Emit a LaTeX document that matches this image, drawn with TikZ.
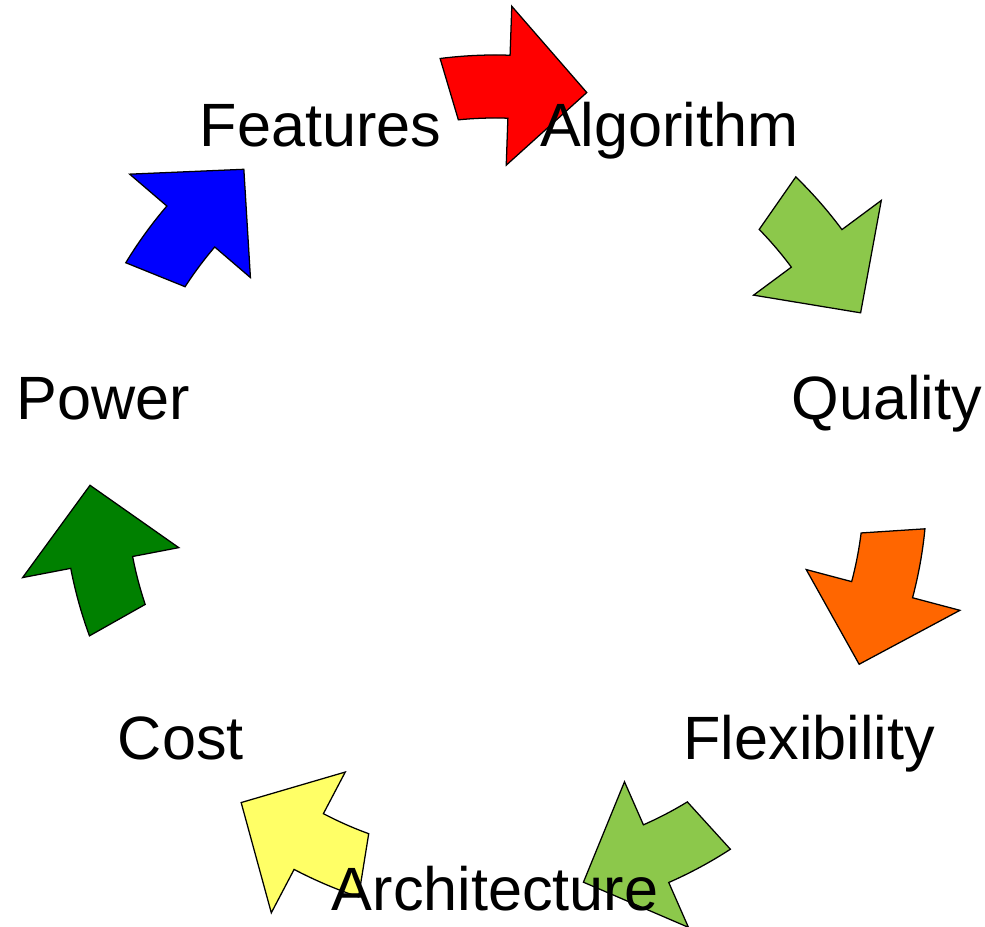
\documentclass[tikz,border=0pt]{standalone}
\usepackage{fontspec}
\setmainfont{Liberation Sans}
\usepackage{xcolor}
\usepackage{tikz}
\usetikzlibrary{
	positioning,    % per posizionare i nodi
	calc            % per calcolare le coordinate
}
\definecolor{rosso}{HTML}{FF0000}
\definecolor{verdechiaro}{HTML}{8CC84B}
\definecolor{arancio}{HTML}{FF6600}
\definecolor{giallo}{HTML}{FFFF66}
\definecolor{verdescuro}{HTML}{008000}
\definecolor{blu}{HTML}{0000FF}
\tikzset{
	freccia/.style={draw=black, line width=0.9pt, line join=miter},
	etichetta/.style={font=\fontsize{43.5}{52}\selectfont, inner sep=0pt,
		text height=31.1pt, text depth=0pt, anchor=center}
}
\begin{document}
\begin{tikzpicture}[x=0.025cm, y=0.025cm]
	% Definizioni per personalizzare il ciclo
	\def\rin{369}   % raggio interno del corpo
	\def\rout{432}  % raggio esterno del corpo
	\def\hin{322}   % raggio interno della punta
	\def\hout{481}  % raggio esterno della punta
	\def\rtip{405}  % raggio della punta
	\def\rlab{402}  % raggio delle etichette
	
	\useasboundingbox (0,0) rectangle (985,926);
	\coordinate (centro) at (495,439);
	
	\begin{scope}[shift={(centro)}]
		% --- Frecce curve ---
		\foreach \col [count=\k from 0] in {rosso,verdechiaro,arancio,verdechiaro,giallo,verdescuro,blu} {
			\pgfmathsetmacro\b{88 - \k*360/7}
			\pgfmathsetmacro\ta{\b + 9.3}
			\pgfmathsetmacro\tb{\b + 7.7}
			\pgfmathsetmacro\tp{\b - 11.1}
			\filldraw[freccia, fill=\col]
			(\ta:\rout) arc[start angle=\ta, end angle=\b, radius=\rout]
			-- (\b:\hout) -- (\tp:\rtip) -- (\b:\hin) -- (\b:\rin)
			arc[start angle=\b, end angle=\tb, radius=\rin] -- cycle;
		}
		
		% --- Etichette ---
		\foreach \testo [count=\k from 0] in {Algorithm,Quality,Flexibility,Architecture,Cost,Power,Features} {
			\pgfmathsetmacro\a{64.3 - \k*360/7}
			\node[etichetta] (lbl-\k) at (\a:\rlab) {\testo};
		}
	\end{scope}
\end{tikzpicture}
\end{document}
